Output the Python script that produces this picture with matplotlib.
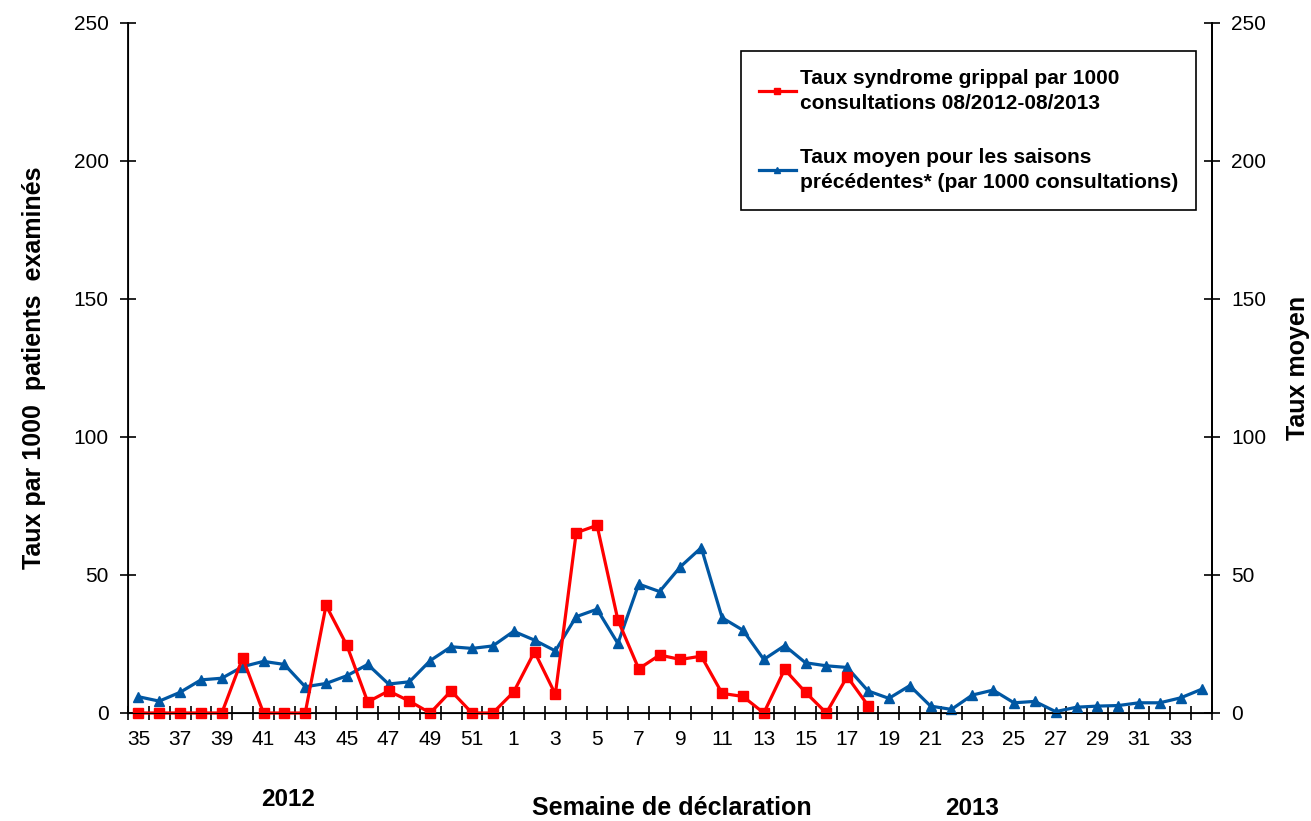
import matplotlib.pyplot as plt
import numpy as np

plt.rcParams['font.family'] = ['Liberation Sans', 'DejaVu Sans']

# Semaines de déclaration (35..52 en 2012, 1..34 en 2013)
semaines = list(range(35, 53)) + list(range(1, 35))

# Taux syndrome grippal 08/2012-08/2013 (jusqu'à la semaine 18)
taux_grippal = [0, 0, 0, 0, 0, 20, 0, 0, 0, 39, 24.5, 4, 8, 4.3, 0, 8, 0, 0,
                7.6, 22.2, 6.8, 65.3, 68, 33.7, 16, 21, 19.4, 20.6, 7.1, 6,
                0, 15.8, 7.5, 0, 13.2, 2.7]

# Taux moyen pour les saisons précédentes
taux_moyen = [5.9, 4.3, 7.5, 12, 12.6, 16.8, 18.7, 17.6, 9.5, 10.7, 13.5,
              17.6, 10.5, 11.3, 19, 24, 23.4, 24.3,
              29.6, 26.4, 22.5, 34.9, 37.6, 25.2, 46.7, 44, 53, 59.9, 34.5,
              30, 19.4, 24.4, 18.2, 17.1, 16.5, 8, 5.3, 9.9, 2.5, 1.3, 6.5,
              8.3, 3.7, 4.2, 0.5, 2.1, 2.5, 2.7, 3.7, 3.7, 5.5, 8.6]

x = np.arange(len(semaines))

fig = plt.figure(figsize=(13.11, 8.21), dpi=100)
ax = fig.add_axes([128 / 1311, 1 - 713 / 821, (1212 - 128) / 1311, (713 - 23) / 821])

ax.plot(x[:len(taux_grippal)], taux_grippal, color='#FF0000', linewidth=2.3,
        marker='s', markersize=6.5, clip_on=False, zorder=4,
        label='Taux syndrome grippal par 1000\nconsultations 08/2012-08/2013')
ax.plot(x, taux_moyen, color='#0057A3', linewidth=2.3,
        marker='^', markersize=6.5, clip_on=False, zorder=3,
        label='Taux moyen pour les saisons\nprécédentes* (par 1000 consultations)')

ax.set_xlim(-0.5, len(semaines) - 0.5)
ax.set_ylim(0, 250)
ax.set_yticks(range(0, 251, 50))

# Étiquettes une semaine sur deux, graduations entre les catégories
ax.set_xticks(x[::2])
ax.set_xticklabels([str(s) for s in semaines[::2]], fontsize=15)
ax.set_xticks(np.arange(-0.5, len(semaines), 1), minor=True)
ax.tick_params(axis='x', which='major', length=0, pad=12)
ax.tick_params(axis='x', which='minor', direction='inout', length=10, width=1.2)
ax.tick_params(axis='y', direction='inout', length=12, width=1.2, labelsize=15, pad=8)

ax.spines['top'].set_visible(False)
for side in ['left', 'right', 'bottom']:
    ax.spines[side].set_linewidth(1.3)

ax2 = ax.twinx()
ax2.set_ylim(0, 250)
ax2.set_yticks(range(0, 251, 50))
ax2.tick_params(axis='y', direction='inout', length=12, width=1.2, labelsize=15, pad=8)
ax2.spines['top'].set_visible(False)
ax2.spines['right'].set_linewidth(1.3)
ax2.set_ylabel('Taux moyen', fontsize=18, fontweight='bold', labelpad=14)

ax.set_ylabel('Taux par 1000  patients  examinés', fontsize=18, fontweight='bold', labelpad=20)

fig.text(288 / 1311, 1 - 799 / 821, '2012', fontsize=17.5, fontweight='bold', ha='center', va='center')
fig.text(672 / 1311, 1 - 808 / 821, 'Semaine de déclaration', fontsize=18, fontweight='bold', ha='center', va='center')
fig.text(972 / 1311, 1 - 808 / 821, '2013', fontsize=17.5, fontweight='bold', ha='center', va='center')

leg = ax.legend(loc='upper left', bbox_to_anchor=((741 - 128) / 1084, (713 - 51) / 690),
                borderaxespad=0, frameon=True, fancybox=False, edgecolor='black',
                framealpha=1, prop={'weight': 'bold', 'size': 15}, handlelength=1.8,
                markerscale=0.6, labelspacing=1.7, borderpad=0.85, handletextpad=0.2)
for t in leg.get_texts():
    t.set_linespacing(1.4)
leg.get_frame().set_linewidth(1.2)

plt.savefig('out.png', dpi=100)
